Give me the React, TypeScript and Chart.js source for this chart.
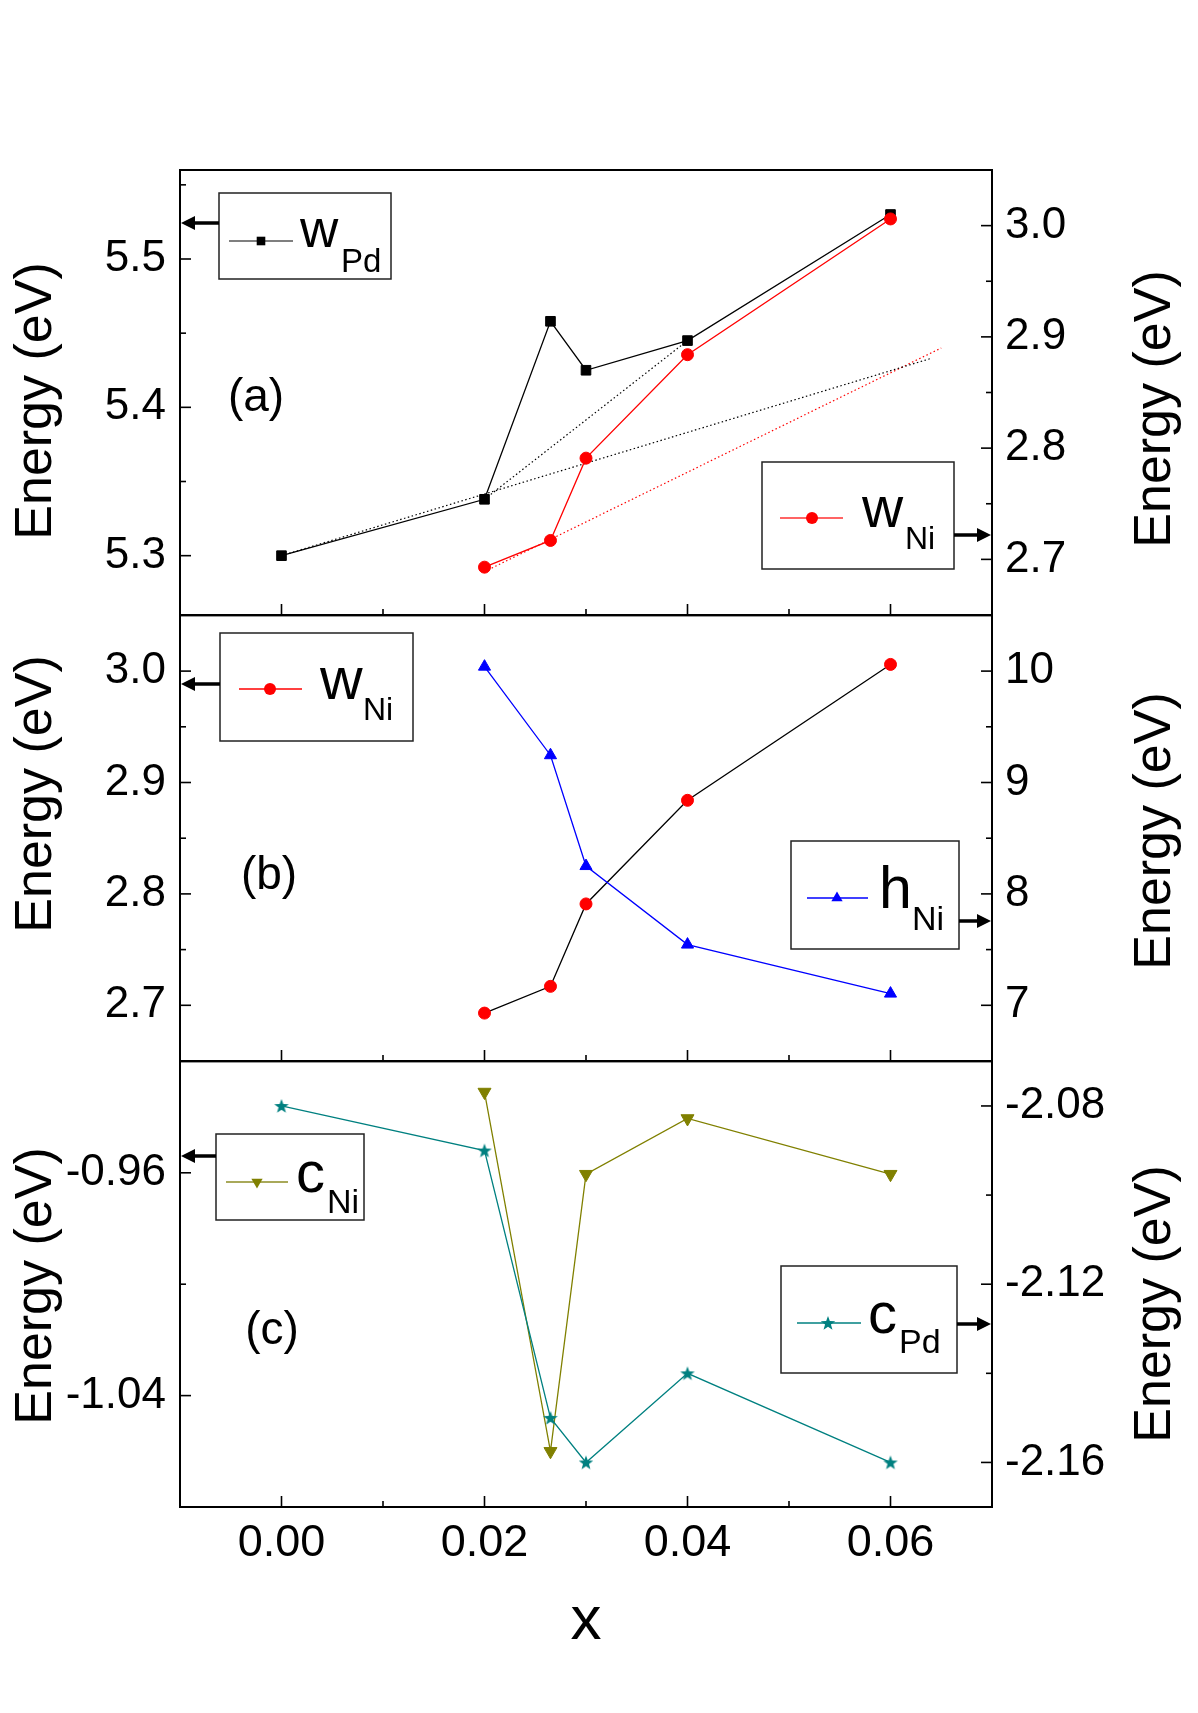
import React, { useEffect, useRef } from 'react';
import { Chart, registerables } from 'chart.js';

Chart.register(...registerables);

const FONT = "'Liberation Sans', Arial, Helvetica, sans-serif";

// ---------------- data ----------------
const xPd = [0, 0.02, 0.0265, 0.03, 0.04, 0.06];
const xNi = [0.02, 0.0265, 0.03, 0.04, 0.06];
const wPd = [5.3, 5.338, 5.458, 5.425, 5.445, 5.53];
const wNi = [2.693, 2.717, 2.791, 2.884, 3.006];
const hNi = [10.04, 9.245, 8.25, 7.545, 7.105];
const cNi = [-0.931, -1.06, -0.9605, -0.9405, -0.9605];
const cPd = [-2.08, -2.09, -2.15, -2.16, -2.14, -2.16];
// dotted guide lines of panel (a)
const guidePdLongX = [0, 0.064];
const guidePdLongY = [5.3, 5.433];
const guidePdShortX = [0.02, 0.04];
const guidePdShortY = [5.338, 5.445];
const guideNiX = [0.02, 0.065];
const guideNiY = [2.689, 2.89];

// ---------------- axes: [min, max, labelled step, tick step, decimals] ----------------
const xAxis = [-0.01, 0.07, 0.02, 0.01, 2];
const aLeftAxis = [5.26, 5.56, 0.1, 0.05, 1];
const aRightAxis = [2.65, 3.05, 0.1, 0.05, 1];
const bLeftAxis = [2.65, 3.05, 0.1, 0.05, 1];
const bRightAxis = [6.5, 10.5, 1, 0.5, 0];
const cLeftAxis = [-1.08, -0.92, 0.08, 0.04, 2];
const cRightAxis = [-2.17, -2.07, 0.04, 0.02, 2];

const AXIS_TITLE = 'Energy (eV)';
const X_TITLE = 'x';

function tickValues(ax: number[]) {
  const [min, max, , minor] = ax;
  const out: number[] = [];
  const k0 = Math.ceil(min / minor - 1e-6);
  const k1 = Math.floor(max / minor + 1e-6);
  for (let k = k0; k <= k1; k++) out.push(Number((k * minor).toFixed(6)));
  return out;
}
function isMajor(v: number, step: number) {
  const r = v / step;
  return Math.abs(r - Math.round(r)) < 1e-6;
}
function pts(xs: number[], ys: number[]) {
  return xs.map((x, i) => ({ x, y: ys[i] }));
}

function makeStar(color: string) {
  const c = document.createElement('canvas');
  c.width = 18;
  c.height = 18;
  const g = c.getContext('2d')!;
  g.fillStyle = color;
  g.beginPath();
  const R = 7.6, r = 3.1, cx = 9, cy = 9.6;
  for (let i = 0; i < 10; i++) {
    const a = -Math.PI / 2 + (i * Math.PI) / 5;
    const rr = i % 2 === 0 ? R : r;
    const px = cx + rr * Math.cos(a), py = cy + rr * Math.sin(a);
    if (i === 0) g.moveTo(px, py); else g.lineTo(px, py);
  }
  g.closePath();
  g.fill();
  return c;
}

type LegendSpec = {
  main: string; sub: string; lineColor: string; lineWidth: number; marker: string; markerColor: string;
  box: number[]; lineY: number; lineX: number[]; markerX: number; textX: number; subX: number; baseline: number;
  mainSize: number; subSize: number; subDy: number; arrowY: number; arrowDir: 'left' | 'right';
};

type PanelSpec = {
  canvasTop: number; canvasHeight: number; padTop: number; xHeight: number; showX: boolean;
  left: number[]; right: number[]; letter: string; letterX: number; letterY: number;
  leftTitleY: number; rightTitleY: number; legends: LegendSpec[]; datasets: (star: HTMLCanvasElement) => any[];
};

const PANELS: PanelSpec[] = [
  {
    canvasTop: 0, canvasHeight: 660, padTop: 170, xHeight: 45, showX: false,
    left: aLeftAxis, right: aRightAxis, letter: '(a)', letterX: 256, letterY: 411,
    leftTitleY: 401, rightTitleY: 409,
    legends: [
      { main: 'w', sub: 'Pd', lineColor: '#000', lineWidth: 1.2, marker: 'rect', markerColor: '#000',
        box: [219, 193, 391, 279], lineY: 241, lineX: [229, 293], markerX: 261, textX: 300, subX: 341, baseline: 247,
        mainSize: 53, subSize: 33, subDy: 25, arrowY: 223, arrowDir: 'left' },
      { main: 'w', sub: 'Ni', lineColor: '#ff6464', lineWidth: 2, marker: 'circle', markerColor: '#ff0000',
        box: [762, 462, 954, 569], lineY: 518, lineX: [780, 843], markerX: 812, textX: 862, subX: 905, baseline: 527,
        mainSize: 57, subSize: 32, subDy: 22, arrowY: 535, arrowDir: 'right' },
    ],
    datasets: () => [
      { data: pts(xNi, wNi), yAxisID: 'yR', borderColor: '#ff0000', borderWidth: 1.3, pointStyle: 'circle',
        pointRadius: 6, pointBackgroundColor: '#ff0000', pointBorderColor: '#ff0000', pointBorderWidth: 1 },
      { data: pts(xPd, wPd), yAxisID: 'yL', borderColor: '#000000', borderWidth: 1.3, pointStyle: 'rect',
        pointRadius: 6.8, pointBackgroundColor: '#000000', pointBorderColor: '#000000', pointBorderWidth: 1 },
      { data: pts(guidePdLongX, guidePdLongY), yAxisID: 'yL', borderColor: '#000000', borderWidth: 1.2,
        borderDash: [1.5, 2.5], pointRadius: 0 },
      { data: pts(guidePdShortX, guidePdShortY), yAxisID: 'yL', borderColor: '#000000', borderWidth: 1.2,
        borderDash: [1.5, 2.5], pointRadius: 0 },
      { data: pts(guideNiX, guideNiY), yAxisID: 'yR', borderColor: '#ff0000', borderWidth: 1.2,
        borderDash: [1.5, 2.5], pointRadius: 0 },
    ],
  },
  {
    canvasTop: 575, canvasHeight: 530, padTop: 40, xHeight: 44, showX: false,
    left: bLeftAxis, right: bRightAxis, letter: '(b)', letterX: 269, letterY: 889,
    leftTitleY: 794, rightTitleY: 831,
    legends: [
      { main: 'w', sub: 'Ni', lineColor: '#ff0000', lineWidth: 1.3, marker: 'circle', markerColor: '#ff0000',
        box: [220, 633, 413, 741], lineY: 689, lineX: [239, 302], markerX: 270, textX: 320, subX: 363, baseline: 699,
        mainSize: 59, subSize: 32, subDy: 21, arrowY: 684, arrowDir: 'left' },
      { main: 'h', sub: 'Ni', lineColor: '#0000ff', lineWidth: 1.3, marker: 'triangle', markerColor: '#0000ff',
        box: [791, 841, 959, 949], lineY: 898, lineX: [807, 868], markerX: 837, textX: 879, subX: 912, baseline: 908,
        mainSize: 59, subSize: 34, subDy: 22, arrowY: 921, arrowDir: 'right' },
    ],
    datasets: () => [
      { data: pts(xNi, hNi), yAxisID: 'yR', borderColor: '#0000ff', borderWidth: 1.3, pointStyle: 'triangle',
        pointRadius: 7, pointBackgroundColor: '#0000ff', pointBorderColor: '#0000ff', pointBorderWidth: 1 },
      { data: pts(xNi, wNi), yAxisID: 'yL', borderColor: '#000000', borderWidth: 1.3, pointStyle: 'circle',
        pointRadius: 6, pointBackgroundColor: '#ff0000', pointBorderColor: '#ff0000', pointBorderWidth: 1 },
    ],
  },
  {
    canvasTop: 1021, canvasHeight: 692, padTop: 40, xHeight: 206, showX: true,
    left: cLeftAxis, right: cRightAxis, letter: '(c)', letterX: 272, letterY: 1344,
    leftTitleY: 1286, rightTitleY: 1304,
    legends: [
      { main: 'c', sub: 'Ni', lineColor: '#a9a95a', lineWidth: 2, marker: 'triangleDown', markerColor: '#808000',
        box: [216, 1134, 364, 1220], lineY: 1182, lineX: [226, 288], markerX: 257, textX: 296, subX: 327, baseline: 1192,
        mainSize: 58, subSize: 34, subDy: 21, arrowY: 1156, arrowDir: 'left' },
      { main: 'c', sub: 'Pd', lineColor: '#008080', lineWidth: 1.3, marker: 'star', markerColor: '#008080',
        box: [781, 1266, 957, 1373], lineY: 1323, lineX: [797, 861], markerX: 828, textX: 868, subX: 899, baseline: 1333,
        mainSize: 58, subSize: 34, subDy: 20, arrowY: 1324, arrowDir: 'right' },
    ],
    datasets: (star) => [
      { data: pts(xPd, cPd), yAxisID: 'yR', borderColor: '#008080', borderWidth: 1.3, pointStyle: star,
        pointRadius: 7 },
      { data: pts(xNi, cNi), yAxisID: 'yL', borderColor: '#808000', borderWidth: 1.3, pointStyle: 'triangle',
        pointRotation: 180, pointRadius: 7.5, pointBackgroundColor: '#808000', pointBorderColor: '#808000',
        pointBorderWidth: 1 },
    ],
  },
];

function drawMarker(ctx: CanvasRenderingContext2D, kind: string, x: number, y: number, color: string, star: HTMLCanvasElement) {
  ctx.save();
  ctx.fillStyle = color;
  ctx.beginPath();
  const r = 6.5;
  if (kind === 'rect') {
    ctx.rect(x - 4.3, y - 4.3, 8.6, 8.6);
    ctx.fill();
  } else if (kind === 'circle') {
    ctx.arc(x, y, 6, 0, Math.PI * 2);
    ctx.fill();
  } else if (kind === 'triangle') {
    ctx.moveTo(x, y - r);
    ctx.lineTo(x + r * 0.866, y + r / 2);
    ctx.lineTo(x - r * 0.866, y + r / 2);
    ctx.closePath();
    ctx.fill();
  } else if (kind === 'triangleDown') {
    ctx.moveTo(x, y + r);
    ctx.lineTo(x + r * 0.866, y - r / 2);
    ctx.lineTo(x - r * 0.866, y - r / 2);
    ctx.closePath();
    ctx.fill();
  } else if (kind === 'star') {
    ctx.drawImage(star, x - star.width / 2, y - star.height / 2);
  }
  ctx.restore();
}

function drawArrow(ctx: CanvasRenderingContext2D, from: number, tip: number, y: number) {
  const dir = Math.sign(tip - from);
  const head = 14, hw = 7;
  ctx.save();
  ctx.strokeStyle = '#000';
  ctx.fillStyle = '#000';
  ctx.lineWidth = 3.5;
  ctx.beginPath();
  ctx.moveTo(from, y);
  ctx.lineTo(tip - dir * (head - 1), y);
  ctx.stroke();
  ctx.beginPath();
  ctx.moveTo(tip, y);
  ctx.lineTo(tip - dir * head, y - hw);
  ctx.lineTo(tip - dir * head, y + hw);
  ctx.closePath();
  ctx.fill();
  ctx.restore();
}

function panelPlugin(p: PanelSpec, star: HTMLCanvasElement) {
  return {
    id: 'panelDecor',
    afterDraw(chart: any) {
      const ctx: CanvasRenderingContext2D = chart.ctx;
      const ca = chart.chartArea;
      const off = p.canvasTop;
      ctx.save();
      // tick marks (inward)
      ctx.strokeStyle = '#000';
      ctx.lineWidth = 1.6;
      const xs = chart.scales.x;
      xs.ticks.forEach((t: any) => {
        const px = xs.getPixelForValue(t.value);
        if (px < ca.left + 2 || px > ca.right - 2) return;
        const len = isMajor(t.value, xAxis[2]) ? 11 : 6;
        ctx.beginPath();
        ctx.moveTo(px, ca.bottom);
        ctx.lineTo(px, ca.bottom - len);
        ctx.stroke();
      });
      const yl = chart.scales.yL;
      yl.ticks.forEach((t: any) => {
        const py = yl.getPixelForValue(t.value);
        if (py < ca.top + 2 || py > ca.bottom - 2) return;
        const len = isMajor(t.value, p.left[2]) ? 11 : 6;
        ctx.beginPath();
        ctx.moveTo(ca.left, py);
        ctx.lineTo(ca.left + len, py);
        ctx.stroke();
      });
      const yr = chart.scales.yR;
      yr.ticks.forEach((t: any) => {
        const py = yr.getPixelForValue(t.value);
        if (py < ca.top + 2 || py > ca.bottom - 2) return;
        const len = isMajor(t.value, p.right[2]) ? 11 : 6;
        ctx.beginPath();
        ctx.moveTo(ca.right, py);
        ctx.lineTo(ca.right - len, py);
        ctx.stroke();
      });
      // frame
      ctx.lineWidth = 2;
      ctx.strokeRect(ca.left, ca.top, ca.right - ca.left, ca.bottom - ca.top);

      // axis titles
      ctx.fillStyle = '#000';
      ctx.font = `52px ${FONT}`;
      ctx.textAlign = 'center';
      ctx.textBaseline = 'alphabetic';
      ctx.save();
      ctx.translate(51, p.leftTitleY - off);
      ctx.rotate(-Math.PI / 2);
      ctx.fillText(AXIS_TITLE, 0, 0);
      ctx.restore();
      ctx.save();
      ctx.translate(1170, p.rightTitleY - off);
      ctx.rotate(-Math.PI / 2);
      ctx.fillText(AXIS_TITLE, 0, 0);
      ctx.restore();

      // panel letter
      ctx.font = `46px ${FONT}`;
      ctx.fillText(p.letter, p.letterX, p.letterY - off);

      if (p.showX) {
        ctx.font = `62px ${FONT}`;
        ctx.fillText(X_TITLE, (ca.left + ca.right) / 2, 1639 - off);
      }

      // legends
      p.legends.forEach((L) => {
        const [x1, y1, x2, y2] = L.box;
        ctx.fillStyle = '#fff';
        ctx.fillRect(x1, y1 - off, x2 - x1, y2 - y1);
        ctx.strokeStyle = '#222';
        ctx.lineWidth = 1.5;
        ctx.strokeRect(x1, y1 - off, x2 - x1, y2 - y1);
        ctx.strokeStyle = L.lineColor;
        ctx.lineWidth = L.lineWidth;
        ctx.beginPath();
        ctx.moveTo(L.lineX[0], L.lineY - off);
        ctx.lineTo(L.lineX[1], L.lineY - off);
        ctx.stroke();
        drawMarker(ctx, L.marker, L.markerX, L.lineY - off, L.markerColor, star);
        ctx.fillStyle = '#000';
        ctx.textAlign = 'left';
        ctx.textBaseline = 'alphabetic';
        ctx.font = `${L.mainSize}px ${FONT}`;
        ctx.fillText(L.main, L.textX, L.baseline - off);
        ctx.font = `${L.subSize}px ${FONT}`;
        ctx.fillText(L.sub, L.subX, L.baseline + L.subDy - off);
        if (L.arrowDir === 'left') drawArrow(ctx, x1, ca.left + 1, L.arrowY - off);
        else drawArrow(ctx, x2, ca.right - 1, L.arrowY - off);
      });
      ctx.restore();
    },
  };
}

function yScale(ax: number[], position: 'left' | 'right', width: number, padding: number) {
  const [min, max, major, , dec] = ax;
  return {
    type: 'linear',
    position,
    min,
    max,
    afterBuildTicks: (s: any) => {
      s.ticks = tickValues(ax).map((v) => ({ value: v }));
    },
    afterFit: (s: any) => {
      s.width = width;
    },
    grid: { display: false, drawTicks: false },
    border: { display: false },
    ticks: {
      autoSkip: false,
      padding,
      color: '#000',
      font: { family: FONT, size: 44 },
      callback: (v: any) => (isMajor(Number(v), major) ? Number(v).toFixed(dec) : ''),
    },
  };
}

function buildConfig(p: PanelSpec, star: HTMLCanvasElement): any {
  const [xmin, xmax, xmajor, , xdec] = xAxis;
  return {
    type: 'line',
    data: { datasets: p.datasets(star).map((d) => ({ fill: false, tension: 0, ...d })) },
    options: {
      responsive: false,
      animation: false,
      events: [],
      layout: { padding: { top: p.padTop, left: 0, right: 0, bottom: 0 } },
      plugins: { legend: { display: false }, tooltip: { enabled: false } },
      scales: {
        x: {
          type: 'linear',
          position: 'bottom',
          min: xmin,
          max: xmax,
          afterBuildTicks: (s: any) => {
            s.ticks = tickValues(xAxis).map((v) => ({ value: v }));
          },
          afterFit: (s: any) => {
            s.height = p.xHeight;
          },
          grid: { display: false, drawTicks: false },
          border: { display: false },
          ticks: {
            display: p.showX,
            autoSkip: false,
            maxRotation: 0,
            minRotation: 0,
            padding: 10,
            color: '#000',
            font: { family: FONT, size: 45 },
            callback: (v: any) => (isMajor(Number(v), xmajor) ? Number(v).toFixed(xdec) : ''),
          },
        },
        yL: yScale(p.left, 'left', 180, 14),
        yR: yScale(p.right, 'right', 206, 13),
      },
    },
    plugins: [panelPlugin(p, star)],
  };
}

export default function App() {
  const r0 = useRef<HTMLCanvasElement>(null);
  const r1 = useRef<HTMLCanvasElement>(null);
  const r2 = useRef<HTMLCanvasElement>(null);
  const refs = [r0, r1, r2];
  useEffect(() => {
    const star = makeStar('#008080');
    const charts = PANELS.map((p, i) => new Chart(refs[i].current as HTMLCanvasElement, buildConfig(p, star)));
    return () => charts.forEach((c) => c.destroy());
  }, []);
  return (
    <div style={{ position: 'absolute', left: 0, top: 0, width: 1198, height: 1713, background: '#fff', overflow: 'hidden' }}>
      {PANELS.map((p, i) => (
        <canvas
          key={i}
          ref={refs[i]}
          width={1198}
          height={p.canvasHeight}
          style={{ position: 'absolute', left: 0, top: p.canvasTop, width: 1198, height: p.canvasHeight }}
        />
      ))}
    </div>
  );
}
